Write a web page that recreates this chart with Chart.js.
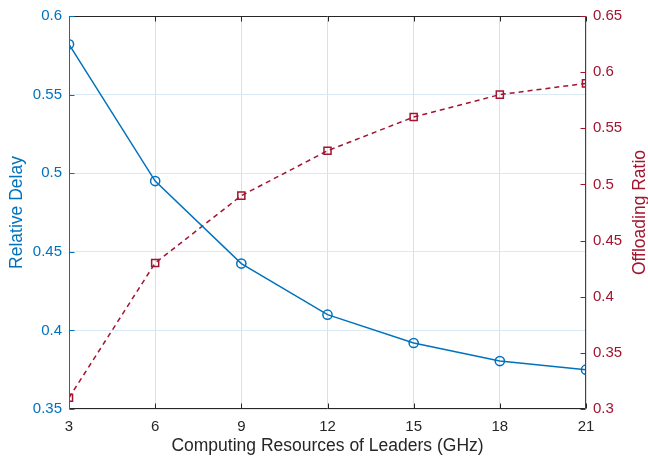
<!DOCTYPE html>
<html>
<head>
<meta charset="utf-8">
<script src="https://cdn.jsdelivr.net/npm/chart.js@4/dist/chart.umd.min.js"></script>
<style>
  html, body { margin: 0; padding: 0; background: #ffffff; }
  #c { display: block; }
</style>
</head>
<body>
<canvas id="c" width="648" height="457"></canvas>
<script>
// ---- Data ----
const computingResources = [3, 6, 9, 12, 15, 18, 21];
const relativeDelay = [0.582, 0.495, 0.4425, 0.410, 0.392, 0.3805, 0.375];
const offloadingRatio = [0.31, 0.43, 0.49, 0.53, 0.56, 0.58, 0.59];
const xTicks = [3, 6, 9, 12, 15, 18, 21];
const leftTicks = [0.35, 0.4, 0.45, 0.5, 0.55, 0.6];
const rightTicks = [0.3, 0.35, 0.4, 0.45, 0.5, 0.55, 0.6, 0.65];
const xTitle = 'Computing Resources of Leaders (GHz)';
const leftTitle = 'Relative Delay';
const rightTitle = 'Offloading Ratio';

// ---- Styles ----
const BLUE = '#0072BD';
const RED = '#A2142F';
const DARK = '#262626';
const FONT = '"Liberation Sans", Arial, Helvetica, sans-serif';
const TITLE_SIZE = 17.5;

const fmt = v => String(parseFloat(Number(v).toFixed(2)));

const axesPlugin = {
  id: 'matlabAxes',
  afterDatasetsDraw(chart) {
    const ctx = chart.ctx;
    const a = chart.chartArea;
    const L = Math.round(a.left) + 0.5, R = Math.round(a.right) - 0.5;
    const T = Math.round(a.top) + 0.5, B = Math.round(a.bottom) - 0.5;
    const tl = 5;
    ctx.save();
    ctx.lineWidth = 1;
    ctx.strokeStyle = DARK;
    ctx.beginPath();
    ctx.moveTo(L, T); ctx.lineTo(R, T);
    ctx.moveTo(L, B); ctx.lineTo(R, B);
    const xs = chart.scales.x;
    xTicks.forEach(v => {
      const px = Math.round(xs.getPixelForValue(v)) + 0.5;
      ctx.moveTo(px, B); ctx.lineTo(px, B - tl);
      ctx.moveTo(px, T); ctx.lineTo(px, T + tl);
    });
    ctx.stroke();
    const yl = chart.scales.yL;
    ctx.strokeStyle = BLUE;
    ctx.beginPath();
    ctx.moveTo(L, T); ctx.lineTo(L, B);
    leftTicks.forEach(v => {
      const py = Math.round(yl.getPixelForValue(v)) + 0.5;
      ctx.moveTo(L, py); ctx.lineTo(L + tl, py);
    });
    ctx.stroke();
    const yr = chart.scales.yR;
    ctx.strokeStyle = RED;
    ctx.beginPath();
    ctx.moveTo(R, T); ctx.lineTo(R, B);
    rightTicks.forEach(v => {
      const py = Math.round(yr.getPixelForValue(v)) + 0.5;
      ctx.moveTo(R, py); ctx.lineTo(R - tl, py);
    });
    ctx.stroke();
    // right title, reading bottom to top
    ctx.fillStyle = RED;
    ctx.font = TITLE_SIZE + 'px ' + FONT;
    ctx.textAlign = 'center';
    ctx.textBaseline = 'middle';
    ctx.translate(640.5, (a.top + a.bottom) / 2);
    ctx.rotate(-Math.PI / 2);
    ctx.fillText(rightTitle, 0, 0);
    ctx.restore();
  }
};

new Chart(document.getElementById('c'), {
  type: 'line',
  data: {
    datasets: [
      {
        label: leftTitle,
        data: computingResources.map((x, i) => ({ x: x, y: relativeDelay[i] })),
        yAxisID: 'yL',
        borderColor: BLUE,
        backgroundColor: 'rgba(0,0,0,0)',
        borderWidth: 1.5,
        pointStyle: 'circle',
        pointRadius: 4.6,
        pointBorderWidth: 1.5,
        pointBorderColor: BLUE,
        pointBackgroundColor: 'rgba(0,0,0,0)',
        tension: 0,
        fill: false
      },
      {
        label: rightTitle,
        data: computingResources.map((x, i) => ({ x: x, y: offloadingRatio[i] })),
        yAxisID: 'yR',
        borderColor: RED,
        backgroundColor: 'rgba(0,0,0,0)',
        borderWidth: 1.5,
        borderDash: [5, 4],
        pointStyle: 'rect',
        pointRadius: 5,
        pointBorderWidth: 1.5,
        pointBorderColor: RED,
        pointBackgroundColor: 'rgba(0,0,0,0)',
        tension: 0,
        fill: false
      }
    ]
  },
  options: {
    responsive: false,
    devicePixelRatio: 1,
    animation: false,
    layout: { padding: { top: 15, left: 0, right: 0, bottom: 0 } },
    plugins: {
      legend: { display: false },
      tooltip: { enabled: false }
    },
    scales: {
      x: {
        type: 'linear',
        position: 'bottom',
        min: 3, max: 21,
        afterBuildTicks: s => { s.ticks = xTicks.map(v => ({ value: v })); },
        afterFit: s => { s.height = 48; },
        grid: { color: '#DFDFDF', lineWidth: 1, drawTicks: false },
        border: { display: false },
        ticks: {
          color: DARK, padding: 9,
          font: { family: FONT, size: 15 },
          callback: v => String(v),
          maxRotation: 0
        },
        title: {
          display: true, text: xTitle, color: DARK,
          font: { family: FONT, size: TITLE_SIZE },
          padding: { top: 0, bottom: 0 }
        }
      },
      yL: {
        type: 'linear',
        position: 'left',
        min: 0.35, max: 0.6,
        afterBuildTicks: s => { s.ticks = leftTicks.map(v => ({ value: v })); },
        afterFit: s => { s.width = 69; },
        grid: { color: '#D9EAF5', lineWidth: 1, drawTicks: false },
        border: { display: false },
        ticks: {
          color: BLUE, padding: 7,
          font: { family: FONT, size: 15 },
          callback: v => fmt(v)
        },
        title: {
          display: true, text: leftTitle, color: BLUE,
          font: { family: FONT, size: TITLE_SIZE },
          padding: { top: 6.5, bottom: 0 }
        }
      },
      yR: {
        type: 'linear',
        position: 'right',
        min: 0.3, max: 0.65,
        afterBuildTicks: s => { s.ticks = rightTicks.map(v => ({ value: v })); },
        afterFit: s => { s.width = 62; },
        grid: { display: false, drawTicks: false },
        border: { display: false },
        ticks: {
          color: RED, padding: 7,
          font: { family: FONT, size: 15 },
          callback: v => fmt(v)
        }
      }
    }
  },
  plugins: [axesPlugin]
});
</script>
</body>
</html>
